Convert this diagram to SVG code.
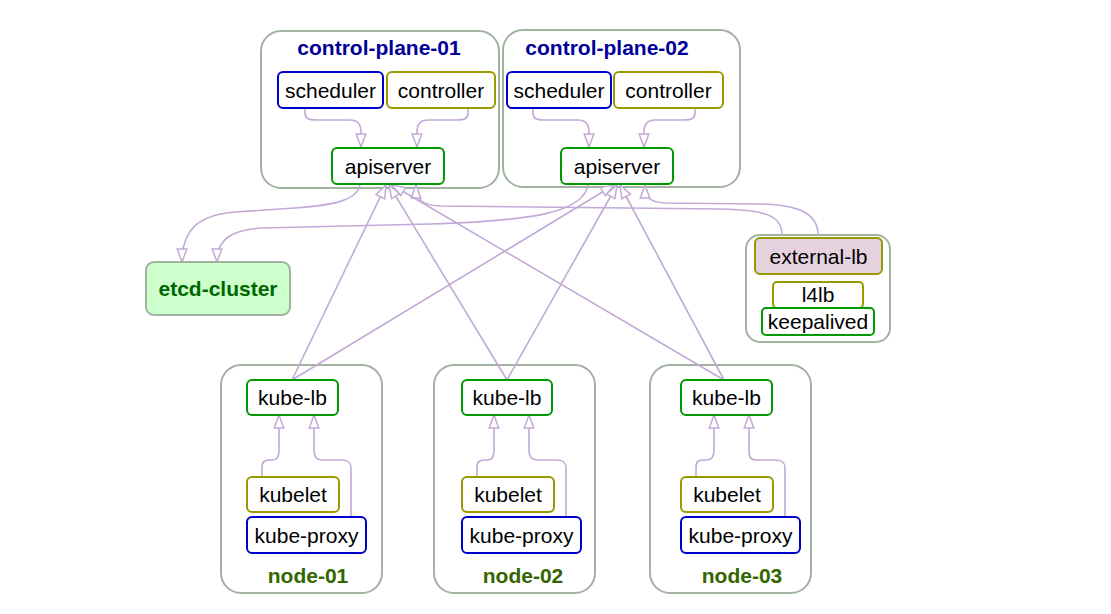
<svg xmlns="http://www.w3.org/2000/svg" width="1111" height="614" viewBox="0 0 1111 614">
<style>
.cl{fill:#fff;stroke:#a2b2a0;stroke-width:2}
.n{fill:#fff;stroke-width:2}
.blue{stroke:#0000cc}
.olive{stroke:#999900}
.green{stroke:#009900}
.t{font-family:"Liberation Sans",Arial,sans-serif;font-size:21px;fill:#000;text-anchor:middle}
.title{font-family:"Liberation Sans",Arial,sans-serif;font-size:21px;font-weight:bold;text-anchor:middle}
.e{fill:none;stroke:#c3a9d6;stroke-width:1.6;marker-end:url(#ah)}
</style>
<defs>
<marker id="ah" viewBox="0 0 15 12" refX="14" refY="6" markerWidth="15" markerHeight="12" markerUnits="userSpaceOnUse" orient="auto">
<path d="M1,1.2 L14,6 L1,10.8 Z" fill="#fff" stroke="#c3a9d6" stroke-width="1.5"/>
</marker>
</defs>
<rect width="1111" height="614" fill="#fff"/>

<g id="cluster-cp1">
<rect class="cl" x="261" y="31" width="238" height="157" rx="20"/>
<text class="title" x="379" y="55" fill="#000099">control-plane-01</text>
</g>
<g id="cluster-cp2">
<rect class="cl" x="503" y="30" width="237" height="157" rx="20"/>
<text class="title" x="607" y="55" fill="#000099">control-plane-02</text>
</g>
<g id="cluster-ext">
<rect class="cl" x="746" y="235" width="144" height="107" rx="14"/>
</g>
<g id="cluster-node01">
<rect class="cl" x="221" y="365" width="161" height="228" rx="20"/>
<text class="title" x="308" y="583" fill="#336600">node-01</text>
</g>
<g id="cluster-node02">
<rect class="cl" x="434" y="365" width="161" height="228" rx="20"/>
<text class="title" x="523" y="583" fill="#336600">node-02</text>
</g>
<g id="cluster-node03">
<rect class="cl" x="650" y="365" width="161" height="228" rx="20"/>
<text class="title" x="742" y="583" fill="#336600">node-03</text>
</g>

<g id="edges">
<path class="e" d="M305,108 L305,113 C305,119 309,120 316,120 L350,120 C358,120 361,124 361,132 L361,147"/>
<path class="e" d="M468,108 L468,113 C468,119 464,120 457,120 L428,120 C420,120 417,124 417,132 L417,147"/>
<path class="e" d="M533,108 L533,113 C533,119 537,120 544,120 L578,120 C586,120 589,124 589,132 L589,147"/>
<path class="e" d="M695,108 L695,113 C695,119 691,120 684,120 L655,120 C647,120 644,124 644,132 L644,147"/>

<path class="e" d="M360,184 C358,200 335,205 295,208 L235,212 C198,215 182,230 182,262"/>
<path class="e" d="M588,184 C585,214 525,221 430,224 L262,228 C230,230 217,240 217,262"/>

<path class="e" d="M782,235 C782,215 765,210 720,209 L440,206 C422,205 416,200 416,185"/>
<path class="e" d="M818,235 C818,214 800,205 760,204 L665,203 C650,202 645,198 645,185"/>

<path class="e" d="M292,380 L386,185"/>
<path class="e" d="M292,380 L614,185"/>
<path class="e" d="M507,380 L389,185"/>
<path class="e" d="M507,380 L617,185"/>
<path class="e" d="M724,380 L392,185"/>
<path class="e" d="M724,380 L620,185"/>

<path class="e" d="M262,477 L262,467 C262,461 265,460 271,460 L273,460 C278,460 279,456 279,450 L279,415"/>
<path class="e" d="M351,517 L351,468 C351,462 348,460 341,460 L322,460 C316,460 314,456 314,450 L314,415"/>
<path class="e" d="M477,477 L477,467 C477,461 480,460 486,460 L488,460 C493,460 494,456 494,450 L494,415"/>
<path class="e" d="M566,517 L566,468 C566,462 563,460 556,460 L537,460 C531,460 529,456 529,450 L529,415"/>
<path class="e" d="M696,477 L696,467 C696,461 699,460 705,460 L707,460 C712,460 714,456 714,450 L714,415"/>
<path class="e" d="M785,517 L785,468 C785,462 782,460 775,460 L756,460 C750,460 749,456 749,450 L749,415"/>
</g>

<g id="cp1-scheduler"><rect class="n blue" x="278" y="72" width="105" height="36" rx="5"/><text class="t" x="330.5" y="98">scheduler</text></g>
<g id="cp1-controller"><rect class="n olive" x="387" y="72" width="108" height="36" rx="5"/><text class="t" x="441" y="98">controller</text></g>
<g id="cp1-apiserver"><rect class="n green" x="332" y="148" width="112" height="36" rx="5"/><text class="t" x="388" y="174">apiserver</text></g>

<g id="cp2-scheduler"><rect class="n blue" x="507" y="72" width="104" height="36" rx="5"/><text class="t" x="559" y="98">scheduler</text></g>
<g id="cp2-controller"><rect class="n olive" x="614" y="72" width="109" height="36" rx="5"/><text class="t" x="668.5" y="98">controller</text></g>
<g id="cp2-apiserver"><rect class="n green" x="561" y="148" width="112" height="36" rx="5"/><text class="t" x="617" y="174">apiserver</text></g>

<g id="etcd-cluster"><rect x="146" y="262" width="144" height="53" rx="8" fill="#ccffcc" stroke="#a2b2a0" stroke-width="2"/><text class="title" x="218" y="296" fill="#006600">etcd-cluster</text></g>

<g id="external-lb"><rect class="n olive" x="755" y="238" width="127" height="36" rx="5" style="fill:#e6d1de"/><text class="t" x="818.5" y="264">external-lb</text></g>
<g id="l4lb"><rect class="n olive" x="773" y="282" width="90" height="26" rx="4"/><text class="t" x="818" y="302">l4lb</text></g>
<g id="keepalived"><rect class="n green" x="762" y="308" width="112" height="27" rx="4"/><text class="t" x="818" y="329">keepalived</text></g>

<g id="n1-kube-lb"><rect class="n green" x="247" y="380" width="91" height="35" rx="5"/><text class="t" x="292.5" y="405">kube-lb</text></g>
<g id="n1-kubelet"><rect class="n olive" x="247" y="477" width="92" height="35" rx="5"/><text class="t" x="293" y="502">kubelet</text></g>
<g id="n1-kube-proxy"><rect class="n blue" x="247" y="517" width="119" height="36" rx="5"/><text class="t" x="306.5" y="543">kube-proxy</text></g>

<g id="n2-kube-lb"><rect class="n green" x="462" y="380" width="90" height="35" rx="5"/><text class="t" x="507" y="405">kube-lb</text></g>
<g id="n2-kubelet"><rect class="n olive" x="462" y="477" width="92" height="35" rx="5"/><text class="t" x="508" y="502">kubelet</text></g>
<g id="n2-kube-proxy"><rect class="n blue" x="462" y="517" width="119" height="36" rx="5"/><text class="t" x="521.5" y="543">kube-proxy</text></g>

<g id="n3-kube-lb"><rect class="n green" x="681" y="380" width="91" height="35" rx="5"/><text class="t" x="726.5" y="405">kube-lb</text></g>
<g id="n3-kubelet"><rect class="n olive" x="681" y="477" width="92" height="35" rx="5"/><text class="t" x="727" y="502">kubelet</text></g>
<g id="n3-kube-proxy"><rect class="n blue" x="681" y="517" width="119" height="36" rx="5"/><text class="t" x="740.5" y="543">kube-proxy</text></g>
</svg>
